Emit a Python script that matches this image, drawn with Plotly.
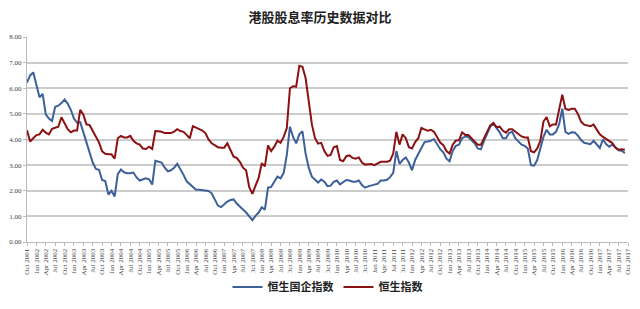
import plotly.graph_objects as go

# Monthly data, Oct 2001 .. Sep 2017
hscei = [6.22, 6.5, 6.62, 6.15, 5.65, 5.78, 4.98, 4.82, 4.72, 5.28, 5.32, 5.42, 5.56, 5.4, 5.16, 4.82,
         4.66, 4.68, 4.3, 3.85, 3.45, 3.1, 2.85, 2.82, 2.42, 2.38, 1.85, 2.0, 1.78, 2.65, 2.83, 2.72,
         2.68, 2.68, 2.71, 2.52, 2.4, 2.46, 2.49, 2.45, 2.24, 3.17, 3.13, 3.1, 2.9, 2.76, 2.8, 2.9,
         3.05, 2.85, 2.62, 2.37, 2.27, 2.15, 2.04, 2.04, 2.02, 2.01, 1.99, 1.9, 1.68, 1.42, 1.36, 1.48,
         1.58, 1.64, 1.66, 1.5, 1.4, 1.27, 1.15, 0.98, 0.85, 1.02, 1.15, 1.36, 1.26, 2.12, 2.15, 2.35,
         2.55, 2.48, 2.7, 3.4, 4.5, 4.1, 3.85, 4.2, 4.32, 3.45, 2.9, 2.55, 2.42, 2.32, 2.44, 2.35,
         2.18, 2.2, 2.35, 2.4, 2.25, 2.32, 2.42, 2.4, 2.35, 2.35, 2.4, 2.22, 2.12, 2.17, 2.22, 2.24,
         2.27, 2.4, 2.4, 2.43, 2.53, 2.7, 3.55, 3.05, 3.2, 3.3, 3.1, 2.8, 3.2, 3.42, 3.7, 3.9,
         3.92, 3.95, 4.02, 3.82, 3.62, 3.5, 3.25, 3.15, 3.55, 3.75, 3.8, 4.05, 4.12, 4.1, 3.98, 3.85,
         3.65, 3.62, 3.95, 4.2, 4.5, 4.62, 4.45, 4.28, 4.05, 4.05, 4.25, 4.3, 4.05, 3.92, 3.8, 3.75,
         3.65, 3.0, 2.98, 3.2, 3.6, 4.1, 4.38, 4.2, 4.2, 4.3, 4.6, 5.2, 4.3, 4.22, 4.28, 4.27,
         4.15, 3.98, 3.87, 3.85, 3.82, 3.95, 3.8, 3.67, 4.0, 3.82, 3.72, 3.8, 3.7, 3.58, 3.56, 3.47]

hsi = [4.36, 3.92, 4.05, 4.17, 4.2, 4.38, 4.27, 4.2, 4.42, 4.46, 4.5, 4.87, 4.6, 4.4, 4.28, 4.35,
       4.35, 5.16, 4.97, 4.59, 4.56, 4.33, 4.08, 3.89, 3.54, 3.44, 3.42, 3.42, 3.25, 4.05, 4.14, 4.08,
       4.08, 4.14, 3.95, 3.85, 3.8, 3.65, 3.63, 3.72, 3.63, 4.33, 4.32, 4.3, 4.25, 4.25, 4.25, 4.31,
       4.4, 4.33, 4.3, 4.18, 4.05, 4.52, 4.46, 4.4, 4.35, 4.25, 4.0, 3.85, 3.78, 3.7, 3.68, 3.68,
       3.85, 3.6, 3.33, 3.28, 3.13, 2.9, 2.8, 2.14, 1.88, 2.2, 2.5, 3.07, 2.95, 3.77, 3.55, 3.72,
       3.95, 3.87, 4.1, 4.45, 6.0, 6.08, 6.06, 6.88, 6.84, 6.4, 5.5, 4.6, 4.05, 3.84, 3.87, 3.55,
       3.36, 3.4, 3.7, 3.74, 3.2, 3.15, 3.35, 3.38, 3.28, 3.25, 3.3, 3.1, 3.02, 3.04, 3.04, 3.0,
       3.08, 3.13, 3.13, 3.13, 3.17, 3.45, 4.3, 3.8, 4.2, 4.05, 3.7, 3.65, 3.9, 4.05, 4.45, 4.4,
       4.34, 4.38, 4.3, 4.1, 3.88, 3.78, 3.55, 3.45, 3.8, 3.96, 3.97, 4.28, 4.18, 4.18, 4.05, 3.95,
       3.8, 3.8, 4.05, 4.25, 4.55, 4.65, 4.48, 4.5, 4.35, 4.27, 4.4, 4.4, 4.3, 4.2, 4.12, 4.08,
       4.08, 3.54, 3.5, 3.65, 3.95, 4.7, 4.88, 4.52, 4.59, 4.59, 5.2, 5.75, 5.2, 5.15, 5.2, 5.2,
       5.0, 4.7, 4.58, 4.56, 4.52, 4.58, 4.4, 4.2, 4.1, 4.01, 3.95, 3.86, 3.68, 3.6, 3.62, 3.6]

months = ["Jan", "Apr", "Jul", "Oct"]
tick_labels = []
for yr in range(2001, 2018):
    for m in months:
        if yr == 2001 and m != "Oct":
            continue
        tick_labels.append(f"{m} {yr}")
tick_labels = tick_labels[:65]
tick_pos = [3 * k for k in range(len(tick_labels))]
x = list(range(len(hscei)))

fig = go.Figure()
fig.add_trace(go.Scatter(x=x, y=hscei, mode="lines", name="<b>恒生国企指数</b>",
                         line=dict(color="#3d5f9a", width=2)))
fig.add_trace(go.Scatter(x=x, y=hsi, mode="lines", name="<b>恒生指数</b>",
                         line=dict(color="#8b1113", width=2)))

fig.update_layout(
    width=640, height=309,
    margin=dict(l=27, r=8, t=37, b=62),
    paper_bgcolor="white", plot_bgcolor="white",
    title=dict(text="<b>港股股息率历史数据对比</b>", x=0.5, xanchor="center",
               y=1 - 17 / 309, yanchor="middle", yref="container",
               font=dict(family="Noto Sans CJK SC", size=13, color="#222")),
    showlegend=True,
    legend=dict(orientation="h", x=0.5, xanchor="center", y=-0.22, yanchor="middle",
                font=dict(family="Noto Sans CJK SC", size=11, color="#222"),
                itemwidth=30, traceorder="normal"),
    xaxis=dict(range=[0, 192], tickmode="array", tickvals=tick_pos, ticktext=tick_labels,
               tickangle=-90, tickfont=dict(family="Liberation Serif", size=7, color="#444"),
               showgrid=False, zeroline=False, showline=True, linecolor="#bbbbbb",
               ticks="outside", ticklen=3, tickcolor="#bbbbbb"),
    yaxis=dict(range=[0, 8], tickmode="array", tickvals=list(range(0, 9)),
               tickformat=".2f", tickfont=dict(family="Liberation Serif", size=7, color="#444"),
               showgrid=True, gridcolor="#cccccc", gridwidth=1.5, zeroline=False,
               showline=True, linecolor="#bbbbbb", ticks="outside", ticklen=3,
               tickcolor="#bbbbbb"),
)

fig.write_html("out.html")
